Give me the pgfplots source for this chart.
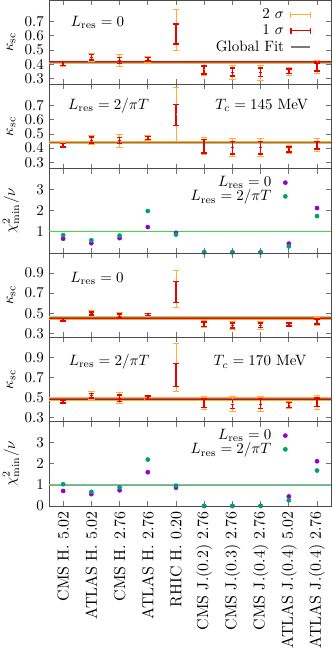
\RequirePackage{fix-cm}
\documentclass[border=0pt]{standalone}
\usepackage{pgfplots}
\pgfplotsset{compat=1.18}
\usepgfplotslibrary{groupplots}
\definecolor{orng}{RGB}{255,176,50}
\definecolor{rd}{RGB}{235,0,0}
\definecolor{purp}{RGB}{148,0,211}
\definecolor{teal2}{RGB}{0,158,115}
\definecolor{grn}{RGB}{60,220,60}
\definecolor{lav}{RGB}{170,150,235}
\definecolor{fitline}{RGB}{120,120,120}
\pgfplotsset{
  sig2/.style={orng, line width=0.6pt, only marks, mark=-, mark size=0.01pt, forget plot,
    error bars/.cd, y dir=both, y explicit,
    error bar style={line width=0.6pt, orng},
    error mark options={rotate=90, orng, mark size=2.2pt, line width=0.6pt}},
  sig1/.style={rd, only marks, mark=-, mark size=0.8pt, forget plot,
    error bars/.cd, y dir=both, y explicit,
    error bar style={line width=1pt, rd},
    error mark options={rotate=90, rd, mark size=1.9pt, line width=1pt}},
  band2/.style={fill=orng, draw=none, forget plot},
  band1/.style={fill=rd, draw=none, forget plot},
  fitl/.style={fitline, line width=0.6pt, forget plot},
  chipur/.style={only marks, mark=*, mark size=1.35pt, purp, mark options={draw=purp, fill=purp}},
  chitea/.style={only marks, mark=*, mark size=1.35pt, teal2, mark options={draw=teal2, fill=teal2}},
  kaplegend/.style={legend style={at={(rel axis cs:0.946,0.955)}, anchor=north east, draw=none, fill=none, nodes={inner sep=1pt}, row sep=0.5pt, column sep=3pt},
    legend cell align=right, legend plot pos=right},
  chilegend/.style={legend style={at={(rel axis cs:0.862,0.965)}, anchor=north east, draw=none, fill=none, nodes={inner sep=1pt}, row sep=-1.5pt, column sep=7pt},
    legend cell align=right, legend plot pos=right},
}
\begin{document}
\begin{tikzpicture}
\begin{groupplot}[
  group style={group size=1 by 6, vertical sep=0pt, xticklabels at=edge bottom, group name=G},
  width=188pt, height=56.2pt, scale only axis,
  xmin=-0.5, xmax=9.5, xtick={0,...,9},
  xticklabels={CMS H. 5.02, ATLAS H. 5.02, CMS H. 2.76, ATLAS H. 2.76, RHIC H. 0.20, CMS J.(0.2) 2.76, CMS J.(0.3) 2.76, CMS J.(0.4) 2.76, ATLAS J.(0.4) 5.02, ATLAS J.(0.4) 2.76},
  xticklabel style={rotate=90, anchor=east, font=\fontsize{10.6}{12}\selectfont},
  tick align=inside, major tick length=3.3pt,
  xtick pos=both, ytick pos=both,
  axis line style={black!70, line width=0.5pt},
  tick style={black!55, line width=0.5pt},
  every axis y label/.style={at={(axis description cs:-0.135,0.5)}, rotate=90, anchor=center},
  yticklabel style={/pgf/number format/fixed, /pgf/number format/precision=1, /pgf/number format/fixed zerofill},
]
% ---------------- Panel 1: Tc=145, Lres=0
\nextgroupplot[ymin=0.26, ymax=0.85, ytick={0.3,0.4,0.5,0.6,0.7}, ylabel={$\kappa_{\rm sc}$}, kaplegend]
\addplot[band2] coordinates {(-0.5,0.4045) (9.5,0.4045) (9.5,0.4255) (-0.5,0.4255)} -- cycle;
\addplot[band1] coordinates {(-0.5,0.4095) (9.5,0.4095) (9.5,0.4205) (-0.5,0.4205)} -- cycle;
\addplot[fitl] coordinates {(-0.5,0.415) (9.5,0.415)};
\addplot[sig2] coordinates {
 (0,0.405) +- (0,0.017) (1,0.450) +- (0,0.028) (2,0.426) +- (0,0.043) (3,0.436) +- (0,0.021)
 (4,0.612) += (0,0.175) -= (0,0.118) (5,0.361) +- (0,0.042) (6,0.346) += (0,0.043) -= (0,0.050)
 (7,0.344) += (0,0.045) -= (0,0.055) (8,0.352) +- (0,0.027) (9,0.381) +- (0,0.043)};
\addplot[sig1] coordinates {
 (0,0.405) +- (0,0.013) (1,0.450) +- (0,0.019) (2,0.426) +- (0,0.021) (3,0.436) +- (0,0.013)
 (4,0.612) +- (0,0.070) (5,0.361) +- (0,0.028) (6,0.346) +- (0,0.027)
 (7,0.344) +- (0,0.029) (8,0.352) +- (0,0.016) (9,0.381) +- (0,0.027)};
\addlegendimage{legend image code/.code={\draw[orng, line width=0.6pt] (0pt,0pt)--(13pt,0pt); \draw[orng, line width=0.6pt] (0pt,-2pt)--(0pt,2pt) (13pt,-2pt)--(13pt,2pt);}}
\addlegendentry{2 $\sigma$}
\addlegendimage{legend image code/.code={\draw[rd, line width=1pt] (0pt,0pt)--(13pt,0pt); \draw[rd, line width=1pt] (0pt,-2pt)--(0pt,2pt) (13pt,-2pt)--(13pt,2pt);}}
\addlegendentry{1 $\sigma$}
\addlegendimage{legend image code/.code={\draw[fitline, line width=0.7pt] (0pt,0pt)--(13pt,0pt);}}
\addlegendentry{Global Fit}
\node at (axis cs:1.22,0.695) {$L_{\rm res}=0$};
% ---------------- Panel 2: Tc=145, Lres=2/piT
\nextgroupplot[ymin=0.255, ymax=0.85, ytick={0.3,0.4,0.5,0.6,0.7}, ylabel={$\kappa_{\rm sc}$}]
\addplot[band2] coordinates {(-0.5,0.428) (9.5,0.428) (9.5,0.452) (-0.5,0.452)} -- cycle;
\addplot[band1] coordinates {(-0.5,0.434) (9.5,0.434) (9.5,0.446) (-0.5,0.446)} -- cycle;
\addplot[fitl] coordinates {(-0.5,0.44) (9.5,0.44)};
\addplot[sig2] coordinates {
 (0,0.421) +- (0,0.016) (1,0.457) +- (0,0.030) (2,0.453) +- (0,0.045) (3,0.471) +- (0,0.015)
 (4,0.634) += (0,0.197) -= (0,0.188) (5,0.414) +- (0,0.062) (6,0.403) +- (0,0.062)
 (7,0.403) +- (0,0.065) (8,0.391) +- (0,0.026) (9,0.421) +- (0,0.048)};
\addplot[sig1] coordinates {
 (0,0.421) +- (0,0.013) (1,0.457) +- (0,0.021) (2,0.453) +- (0,0.021) (3,0.471) +- (0,0.012)
 (4,0.634) +- (0,0.075) (5,0.414) +- (0,0.047) (6,0.403) +- (0,0.043)
 (7,0.403) +- (0,0.045) (8,0.391) +- (0,0.017) (9,0.421) +- (0,0.026)};
\node at (axis cs:1.61,0.70) {$L_{\rm res}=2/\pi T$};
\node at (axis cs:7.04,0.70) {$T_c=145$ MeV};
% ---------------- Panel 3: chi2, Tc=145
\nextgroupplot[ymin=0, ymax=3.98, ytick={1,2,3}, ylabel={$\chi^2_{\rm min}/\nu$}, chilegend,
  yticklabel style={/pgf/number format/precision=0}]
\addplot[grn, line width=0.7pt, forget plot] coordinates {(-0.5,1) (9.5,1)};
\addplot[chipur] coordinates {(0,0.67) (1,0.46) (2,0.70) (3,1.22) (4,0.95) (5,0.03) (6,0.03) (7,0.03) (8,0.44) (9,2.12)};
\addlegendentry{$L_{\rm res}=0$}
\addplot[chitea] coordinates {(0,0.84) (1,0.60) (2,0.82) (3,1.98) (4,0.87) (5,0.03) (6,0.03) (7,0.03) (8,0.31) (9,1.74)};
\addlegendentry{$L_{\rm res}=2/\pi T$}
% ---------------- Panel 4: Tc=170, Lres=0
\nextgroupplot[ymin=0.26, ymax=1.1, ytick={0.3,0.5,0.7,0.9}, ylabel={$\kappa_{\rm sc}$}]
\addplot[band2] coordinates {(-0.5,0.435) (9.5,0.435) (9.5,0.475) (-0.5,0.475)} -- cycle;
\addplot[band1] coordinates {(-0.5,0.445) (9.5,0.445) (9.5,0.465) (-0.5,0.465)} -- cycle;
\addplot[fitl] coordinates {(-0.5,0.455) (9.5,0.455)};
\addplot[sig2] coordinates {
 (0,0.435) +- (0,0.013) (1,0.496) +- (0,0.027) (2,0.472) +- (0,0.037) (3,0.486) +- (0,0.014)
 (4,0.711) += (0,0.215) -= (0,0.154) (5,0.388) +- (0,0.035) (6,0.378) +- (0,0.037)
 (7,0.378) +- (0,0.037) (8,0.388) +- (0,0.024) (9,0.418) +- (0,0.039)};
\addplot[sig1] coordinates {
 (0,0.435) +- (0,0.011) (1,0.496) +- (0,0.016) (2,0.472) +- (0,0.022) (3,0.486) +- (0,0.011)
 (4,0.711) +- (0,0.104) (5,0.388) +- (0,0.022) (6,0.378) +- (0,0.024)
 (7,0.378) +- (0,0.023) (8,0.388) +- (0,0.015) (9,0.418) +- (0,0.026)};
\node at (axis cs:1.2,0.85) {$L_{\rm res}=0$};
% ---------------- Panel 5: Tc=170, Lres=2/piT
\nextgroupplot[ymin=0.26, ymax=1.1, ytick={0.3,0.5,0.7,0.9}, ylabel={$\kappa_{\rm sc}$}]
\addplot[band2] coordinates {(-0.5,0.470) (9.5,0.470) (9.5,0.502) (-0.5,0.502)} -- cycle;
\addplot[band1] coordinates {(-0.5,0.478) (9.5,0.478) (9.5,0.494) (-0.5,0.494)} -- cycle;
\addplot[fitl] coordinates {(-0.5,0.486) (9.5,0.486)};
\addplot[sig2] coordinates {
 (0,0.459) +- (0,0.016) (1,0.519) +- (0,0.038) (2,0.493) +- (0,0.053) (3,0.499) +- (0,0.020)
 (4,0.724) += (0,0.315) -= (0,0.166) (5,0.443) +- (0,0.066) (6,0.436) +- (0,0.070)
 (7,0.436) +- (0,0.072) (8,0.426) +- (0,0.033) (9,0.453) +- (0,0.068)};
\addplot[sig1] coordinates {
 (0,0.459) +- (0,0.013) (1,0.519) +- (0,0.023) (2,0.493) +- (0,0.033) (3,0.499) +- (0,0.017)
 (4,0.724) +- (0,0.116) (5,0.443) +- (0,0.043) (6,0.436) +- (0,0.045)
 (7,0.436) +- (0,0.047) (8,0.426) +- (0,0.025) (9,0.453) +- (0,0.042)};
\node at (axis cs:1.63,0.856) {$L_{\rm res}=2/\pi T$};
\node at (axis cs:6.98,0.856) {$T_c=170$ MeV};
% ---------------- Panel 6: chi2, Tc=170
\nextgroupplot[ymin=0, ymax=4, ytick={0,1,2,3}, ylabel={$\chi^2_{\rm min}/\nu$}, chilegend,
  yticklabel style={/pgf/number format/precision=0}]
\addplot[grn, line width=0.6pt, forget plot] coordinates {(-0.5,0.985) (9.5,0.985)};
\addplot[lav, line width=0.6pt, forget plot] coordinates {(-0.5,1.025) (9.5,1.025)};
\addplot[chipur] coordinates {(0,0.71) (1,0.56) (2,0.74) (3,1.60) (4,0.87) (5,0.0) (6,0.0) (7,0.0) (8,0.45) (9,2.12)};
\addlegendentry{$L_{\rm res}=0$}
\addplot[chitea] coordinates {(0,1.03) (1,0.67) (2,0.88) (3,2.20) (4,0.96) (5,0.0) (6,0.0) (7,0.0) (8,0.27) (9,1.68)};
\addlegendentry{$L_{\rm res}=2/\pi T$}
\end{groupplot}
\pgfresetboundingbox
\path ([xshift=-32.7pt]G c1r1.north west) rectangle ([xshift=0.7pt,yshift=-100.7pt]G c1r6.south east);
\end{tikzpicture}
\end{document}
